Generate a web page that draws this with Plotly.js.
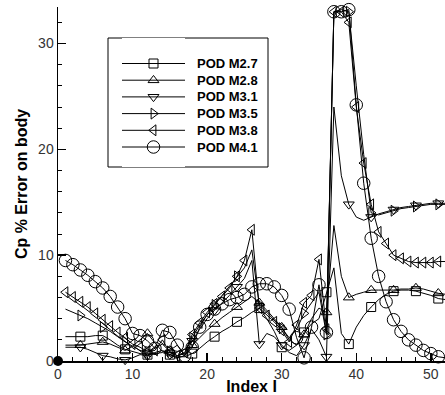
<!DOCTYPE html>
<html><head><meta charset="utf-8">
<script src="https://cdn.plot.ly/plotly-3.0.1.min.js"></script>
<style>html,body{margin:0;padding:0;background:#fff}#chart{width:445px;height:395px}</style>
</head><body><div id="chart"></div>
<script>
const indexI = [1,2,3,4,5,6,7,8,9,10,11,12,13,14,15,16,17,18,19,20,21,22,23,24,25,26,27,28,29,30,31,32,33,34,35,36,37,38,39,40,41,42,43,44,45,46,47,48,49,50,51,52];
const podM27 = [2.3,2.3,2.3,2.3,2.4,2.4,2.0,1.5,1.1,0.9,0.7,0.6,0.7,0.8,0.6,0.4,0.4,0.7,1.2,1.8,2.3,2.8,3.2,3.7,4.1,4.6,5.0,4.0,2.8,1.3,1.0,1.5,2.7,3.5,4.0,6.5,8.8,2.6,1.6,3.2,4.3,5.1,5.8,6.3,6.6,6.7,6.7,6.6,6.4,6.2,5.9,5.8];
const podM28 = [1.5,1.5,1.5,1.6,1.7,1.8,1.6,1.3,1.0,1.4,2.0,2.6,1.7,0.9,1.0,1.5,0.6,1.5,2.2,2.9,3.5,4.1,4.6,5.1,5.6,6.1,5.5,4.8,4.0,3.2,2.0,1.5,2.5,4.0,5.0,4.6,12.8,8.0,6.0,6.3,6.5,6.7,6.7,6.7,6.7,6.8,6.8,6.9,6.8,6.6,6.4,6.3];
const podM31 = [1.3,1.3,1.3,1.1,0.8,0.5,0.4,0.2,0.1,0.3,0.6,0.5,0.8,1.0,0.6,0.3,0.5,1.9,3.0,4.0,4.8,5.5,6.2,7.0,7.8,9.5,1.6,2.6,2.3,1.5,0.8,0.5,1.5,3.0,2.0,0.4,24.0,17.5,14.8,13.6,13.3,13.6,13.9,14.1,14.3,14.5,14.6,14.7,14.8,14.9,14.9,14.9];
const podM35 = [4.9,4.6,4.3,4.0,3.6,3.2,2.8,2.3,1.8,1.4,1.0,0.8,1.2,1.6,0.9,0.5,0.7,2.2,3.4,4.4,5.3,6.2,7.1,8.0,8.8,10.5,5.3,4.6,3.9,3.1,2.2,3.0,4.5,5.5,6.5,2.5,33.0,33.2,33.0,26.0,19.5,14.0,13.8,14.0,14.2,14.4,14.5,14.6,14.7,14.8,14.8,14.8];
const podM38 = [6.5,6.05,5.6,5.1,4.5,3.9,3.3,2.7,2.2,1.6,1.3,0.9,1.0,2.0,0.8,0.5,0.8,2.5,3.6,4.6,5.4,6.1,6.9,8.0,9.5,12.4,5.0,4.3,3.7,2.9,1.8,3.4,5.5,6.2,9.6,3.0,33.0,33.0,32.0,24.0,18.7,14.8,12.2,11.1,10.0,9.7,9.4,9.3,9.3,9.3,9.4,9.4];
const podM41 = [9.5,9.1,8.6,8.1,7.5,6.9,6.1,5.1,4.0,2.6,2.4,1.9,1.2,2.9,2.7,1.5,0.5,1.3,3.2,4.4,4.9,5.4,5.8,6.0,6.3,7.0,7.3,7.3,7.0,6.2,4.9,2.2,0.3,3.2,7.2,2.7,33.0,33.0,33.2,24.2,16.8,11.6,8.0,5.6,3.9,2.8,2.0,1.5,1.0,0.7,0.4,0.3];
const seriesNames = ['POD M2.7','POD M2.8','POD M3.1','POD M3.5','POD M3.8','POD M4.1'];
const originX = [0];
const originY = [0];

const FONT = 'Liberation Sans, Arial, Helvetica, sans-serif';
const series = [
  {y: podM27, symbol: 'square-open', size: 9, step: 3},
  {y: podM28, symbol: 'triangle-up-open', size: 9.5, step: 3},
  {y: podM31, symbol: 'triangle-down-open', size: 9.5, step: 3},
  {y: podM35, symbol: 'triangle-right-open', size: 9.5, step: 3},
  {y: podM38, symbol: 'triangle-left-open', size: 9.5, step: 1},
  {y: podM41, symbol: 'circle-open', size: 12.5, step: 1}
];

const traces = [];
series.forEach((s, k) => {
  traces.push({x: indexI, y: s.y, mode: 'lines', name: seriesNames[k], line: {color: '#000', width: 1},
               showlegend: false, cliponaxis: false, hoverinfo: 'skip'});
  const mx = [], my = [];
  indexI.forEach((v, i) => { if (v % s.step === 0) { mx.push(v); my.push(s.y[i]); } });
  traces.push({x: mx, y: my, mode: 'markers', name: seriesNames[k],
               marker: {symbol: s.symbol, size: s.size, color: '#000', line: {width: 1, color: '#000'}},
               showlegend: false, cliponaxis: false});
});
traces.push({x: originX, y: originY, mode: 'markers', marker: {symbol: 'circle', size: 10, color: '#000'},
             showlegend: false, cliponaxis: false});

// custom legend (drawn in a hidden helper axis pair)
const PLOT_L = 58, PLOT_W = 387, PLOT_B = 361, PLOT_H = 354;
const annotations = [];
series.forEach((s, k) => {
  const yy = 63.5 + k * 16.7;
  traces.push({x: [0, 1], y: [yy, yy], xaxis: 'x2', yaxis: 'y2', mode: 'lines', line: {color: '#000', width: 1},
               showlegend: false, hoverinfo: 'skip', cliponaxis: false});
  traces.push({x: [0.5], y: [yy], xaxis: 'x2', yaxis: 'y2', mode: 'markers',
               marker: {symbol: s.symbol, size: s.size, color: '#000', line: {width: 1, color: '#000'}},
               showlegend: false, hoverinfo: 'skip', cliponaxis: false});
  annotations.push({xref: 'paper', yref: 'paper', x: (195 - PLOT_L) / PLOT_W, y: (PLOT_B - yy) / PLOT_H,
                    xanchor: 'left', yanchor: 'middle', showarrow: false,
                    text: seriesNames[k], font: {family: FONT, size: 13, color: '#000', weight: 'bold'}});
});

const layout = {
  width: 445, height: 395,
  margin: {l: 58, r: 0, t: 7, b: 34},
  paper_bgcolor: '#fff', plot_bgcolor: '#fff',
  showlegend: false,
  font: {family: FONT, color: '#000'},
  xaxis: {
    range: [0, 51.9], showline: true, linecolor: '#000', linewidth: 1.5, mirror: false,
    ticks: 'inside', ticklen: 8, tickwidth: 1.5, tickcolor: '#000', tick0: 0, dtick: 10,
    minor: {ticks: 'inside', dtick: 2, ticklen: 4, tickwidth: 1, tickcolor: '#000'},
    showgrid: false, zeroline: false,
    tickfont: {family: FONT, size: 14, color: '#333'},
    title: {text: 'Index I', font: {family: FONT, size: 16, color: '#000', weight: 'bold'}, standoff: 2}
  },
  yaxis: {
    range: [0, 33.45], showline: true, linecolor: '#000', linewidth: 1.5,
    ticks: 'inside', ticklen: 8, tickwidth: 1.5, tickcolor: '#000', tick0: 0, dtick: 10,
    minor: {ticks: 'inside', dtick: 2, ticklen: 4, tickwidth: 1, tickcolor: '#000'},
    showgrid: false, zeroline: false,
    tickfont: {family: FONT, size: 14, color: '#333'},
    title: {text: 'Cp % Error on body', font: {family: FONT, size: 16, color: '#000', weight: 'bold'}, standoff: 6}
  },
  xaxis2: {domain: [(122 - PLOT_L) / PLOT_W, (185 - PLOT_L) / PLOT_W], range: [0, 1], visible: false, anchor: 'y2', fixedrange: true},
  yaxis2: {domain: [(PLOT_B - 167) / PLOT_H, (PLOT_B - 38) / PLOT_H], range: [167, 38], visible: false, anchor: 'x2', fixedrange: true},
  shapes: [{type: 'rect', xref: 'paper', yref: 'paper',
            x0: (108 - PLOT_L) / PLOT_W, x1: (268 - PLOT_L) / PLOT_W, y0: (PLOT_B - 167) / PLOT_H, y1: (PLOT_B - 38) / PLOT_H,
            line: {color: '#000', width: 1}, fillcolor: 'rgba(0,0,0,0)', layer: 'below'}],
  annotations: annotations
};

Plotly.newPlot('chart', traces, layout, {displayModeBar: false, staticPlot: true});
</script>
</body></html>
